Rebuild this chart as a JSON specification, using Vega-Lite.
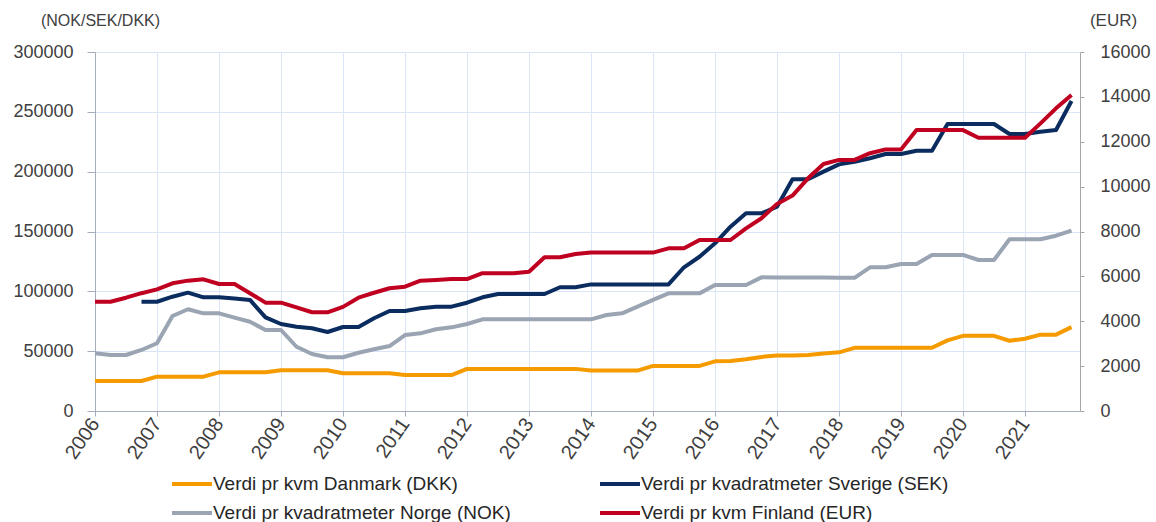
{
  "$schema": "https://vega.github.io/schema/vega-lite/v6.json",
  "width": 985,
  "height": 359,
  "autosize": {"type": "none"},
  "padding": {"left": 95, "top": 52, "right": 76, "bottom": 111},
  "background": "white",
  "config": {
    "font": "Liberation Sans",
    "view": {"stroke": null},
    "axis": {"labelColor": "#404040", "titleColor": "#404040", "titleFontWeight": "normal", "labelFont": "Liberation Sans", "titleFont": "Liberation Sans"}
  },
  "data": {
    "values": [
      {"t": 2006, "dk": 25100, "se": null, "no": 48200, "fi": 4870},
      {"t": 2006.25, "dk": 25100, "se": null, "no": 46800, "fi": 4870},
      {"t": 2006.5, "dk": 25100, "se": null, "no": 46800, "fi": 5050},
      {"t": 2006.75, "dk": 25100, "se": 91300, "no": 51000, "fi": 5250},
      {"t": 2007, "dk": 28700, "se": 91300, "no": 56600, "fi": 5420},
      {"t": 2007.25, "dk": 28700, "se": 95500, "no": 79400, "fi": 5690},
      {"t": 2007.5, "dk": 28700, "se": 98900, "no": 85000, "fi": 5810},
      {"t": 2007.75, "dk": 28700, "se": 95000, "no": 81600, "fi": 5870},
      {"t": 2008, "dk": 32300, "se": 95000, "no": 81600, "fi": 5660},
      {"t": 2008.25, "dk": 32300, "se": 94000, "no": 78000, "fi": 5660},
      {"t": 2008.5, "dk": 32300, "se": 92800, "no": 74600, "fi": 5250},
      {"t": 2008.75, "dk": 32300, "se": 78300, "no": 67700, "fi": 4830},
      {"t": 2009, "dk": 34000, "se": 72700, "no": 67700, "fi": 4830},
      {"t": 2009.25, "dk": 34000, "se": 70400, "no": 53700, "fi": 4620},
      {"t": 2009.5, "dk": 34000, "se": 69100, "no": 47600, "fi": 4400},
      {"t": 2009.75, "dk": 34000, "se": 66000, "no": 44900, "fi": 4400},
      {"t": 2010, "dk": 31500, "se": 70200, "no": 44900, "fi": 4640},
      {"t": 2010.25, "dk": 31500, "se": 70200, "no": 48700, "fi": 5050},
      {"t": 2010.5, "dk": 31500, "se": 77500, "no": 51600, "fi": 5270},
      {"t": 2010.75, "dk": 31500, "se": 83600, "no": 54300, "fi": 5470},
      {"t": 2011, "dk": 30000, "se": 83600, "no": 63500, "fi": 5540},
      {"t": 2011.25, "dk": 30000, "se": 85800, "no": 64900, "fi": 5810},
      {"t": 2011.5, "dk": 30000, "se": 87200, "no": 68300, "fi": 5840},
      {"t": 2011.75, "dk": 30000, "se": 87200, "no": 69900, "fi": 5880},
      {"t": 2012, "dk": 35200, "se": 90500, "no": 72700, "fi": 5880},
      {"t": 2012.25, "dk": 35200, "se": 95000, "no": 76600, "fi": 6140},
      {"t": 2012.5, "dk": 35200, "se": 97800, "no": 76600, "fi": 6140},
      {"t": 2012.75, "dk": 35200, "se": 97800, "no": 76600, "fi": 6140},
      {"t": 2013, "dk": 35200, "se": 97800, "no": 76600, "fi": 6210},
      {"t": 2013.25, "dk": 35200, "se": 97800, "no": 76600, "fi": 6850},
      {"t": 2013.5, "dk": 35200, "se": 103400, "no": 76600, "fi": 6850},
      {"t": 2013.75, "dk": 35200, "se": 103400, "no": 76600, "fi": 7000},
      {"t": 2014, "dk": 33800, "se": 105800, "no": 76600, "fi": 7060},
      {"t": 2014.25, "dk": 33800, "se": 105800, "no": 80200, "fi": 7060},
      {"t": 2014.5, "dk": 33800, "se": 105800, "no": 81600, "fi": 7060},
      {"t": 2014.75, "dk": 33800, "se": 105800, "no": 87200, "fi": 7060},
      {"t": 2015, "dk": 37700, "se": 105800, "no": 92800, "fi": 7060},
      {"t": 2015.25, "dk": 37700, "se": 105800, "no": 98300, "fi": 7250},
      {"t": 2015.5, "dk": 37700, "se": 120100, "no": 98300, "fi": 7250},
      {"t": 2015.75, "dk": 37700, "se": 128900, "no": 98300, "fi": 7620},
      {"t": 2016, "dk": 41500, "se": 140100, "no": 105300, "fi": 7620},
      {"t": 2016.25, "dk": 41800, "se": 154000, "no": 105300, "fi": 7620},
      {"t": 2016.5, "dk": 43300, "se": 165200, "no": 105300, "fi": 8140},
      {"t": 2016.75, "dk": 45200, "se": 165200, "no": 111700, "fi": 8590},
      {"t": 2017, "dk": 46400, "se": 170700, "no": 111500, "fi": 9230},
      {"t": 2017.25, "dk": 46400, "se": 193600, "no": 111500, "fi": 9600},
      {"t": 2017.5, "dk": 46800, "se": 193600, "no": 111500, "fi": 10370},
      {"t": 2017.75, "dk": 48000, "se": 200000, "no": 111500, "fi": 11010},
      {"t": 2018, "dk": 49000, "se": 206100, "no": 111300, "fi": 11190},
      {"t": 2018.25, "dk": 52800, "se": 208300, "no": 111300, "fi": 11190},
      {"t": 2018.5, "dk": 52800, "se": 211200, "no": 120100, "fi": 11490},
      {"t": 2018.75, "dk": 52800, "se": 214800, "no": 120100, "fi": 11660},
      {"t": 2019, "dk": 52800, "se": 214800, "no": 122800, "fi": 11660},
      {"t": 2019.25, "dk": 52800, "se": 217500, "no": 122800, "fi": 12520},
      {"t": 2019.5, "dk": 52800, "se": 217500, "no": 130400, "fi": 12520},
      {"t": 2019.75, "dk": 59000, "se": 239800, "no": 130400, "fi": 12520},
      {"t": 2020, "dk": 62800, "se": 239800, "no": 130400, "fi": 12520},
      {"t": 2020.25, "dk": 62800, "se": 239800, "no": 126200, "fi": 12180},
      {"t": 2020.5, "dk": 62800, "se": 239800, "no": 126200, "fi": 12180},
      {"t": 2020.75, "dk": 58700, "se": 231500, "no": 143500, "fi": 12180},
      {"t": 2021, "dk": 60400, "se": 231500, "no": 143500, "fi": 12180},
      {"t": 2021.25, "dk": 63800, "se": 233400, "no": 143500, "fi": 12820},
      {"t": 2021.5, "dk": 63800, "se": 234800, "no": 146500, "fi": 13490},
      {"t": 2021.75, "dk": 70100, "se": 259000, "no": 150700, "fi": 14080}
    ]
  },
  "layer": [
    {
      "transform": [{"fold": ["dk", "se", "no"], "as": ["serie", "verdi"]}],
      "mark": {"type": "line", "strokeWidth": 4, "strokeJoin": "round"},
      "encoding": {
        "x": {
          "field": "t", "type": "quantitative",
          "scale": {"domain": [2006, 2021.887], "nice": false, "zero": false},
          "axis": {
            "values": [2006, 2007, 2008, 2009, 2010, 2011, 2012, 2013, 2014, 2015, 2016, 2017, 2018, 2019, 2020, 2021],
            "format": "d", "title": null, "labelAngle": -55, "labelAlign": "right", "labelBaseline": "middle",
            "labelFontSize": 20, "labelPadding": 4, "tickSize": 5, "tickColor": "#A6ADBB", "domainColor": "#A6ADBB",
            "grid": true, "gridColor": "#DAE5F7", "gridWidth": 1, "labelOverlap": false, "labelFlush": false
          }
        },
        "y": {
          "field": "verdi", "type": "quantitative",
          "scale": {"domain": [0, 300000], "nice": false},
          "axis": {
            "orient": "left", "values": [0, 50000, 100000, 150000, 200000, 250000, 300000], "format": "d",
            "title": "(NOK/SEK/DKK)", "titleAngle": 0, "titleX": 5, "titleY": -32, "titleAlign": "center", "titleBaseline": "middle",
            "titleFontSize": 16, "labelFontSize": 18, "labelPadding": 14, "tickSize": 8,
            "tickColor": "#A6ADBB", "domainColor": "#A6ADBB", "grid": true, "gridColor": "#DAE5F7", "gridWidth": 1
          }
        },
        "color": {
          "field": "serie", "type": "nominal",
          "scale": {"domain": ["dk", "no", "se", "fi"], "range": ["#F59B00", "#9AA4B3", "#0A2C5E", "#C00020"]},
          "legend": {
            "orient": "none", "legendX": 85, "legendY": 420, "columns": 2, "columnPadding": 81, "rowPadding": 7,
            "title": null, "symbolType": "M-2,0H2", "symbolSize": 400, "symbolStrokeWidth": 4, "labelFontSize": 19,
            "labelOffset": 9, "labelLimit": 500, "labelColor": "#262626",
            "labelExpr": "{'dk': 'Verdi pr kvm Danmark (DKK)', 'se': 'Verdi pr kvadratmeter Sverige (SEK)', 'no': 'Verdi pr kvadratmeter Norge (NOK)', 'fi': 'Verdi pr kvm Finland (EUR)'}[datum.value]"
          }
        }
      }
    },
    {
      "transform": [{"fold": ["fi"], "as": ["serie", "verdi"]}],
      "mark": {"type": "line", "strokeWidth": 4, "strokeJoin": "round"},
      "encoding": {
        "x": {
          "field": "t", "type": "quantitative",
          "scale": {"domain": [2006, 2021.887], "nice": false, "zero": false},
          "axis": {
            "values": [2006, 2007, 2008, 2009, 2010, 2011, 2012, 2013, 2014, 2015, 2016, 2017, 2018, 2019, 2020, 2021],
            "format": "d", "title": null, "labelAngle": -55, "labelAlign": "right", "labelBaseline": "middle",
            "labelFontSize": 20, "labelPadding": 4, "tickSize": 5, "tickColor": "#A6ADBB", "domainColor": "#A6ADBB",
            "grid": true, "gridColor": "#DAE5F7", "gridWidth": 1, "labelOverlap": false, "labelFlush": false
          }
        },
        "y": {
          "field": "verdi", "type": "quantitative",
          "scale": {"domain": [0, 16000], "nice": false},
          "axis": {
            "orient": "right", "values": [0, 2000, 4000, 6000, 8000, 10000, 12000, 14000, 16000], "format": "d",
            "title": "(EUR)", "titleAngle": 0, "titleX": 33, "titleY": -32, "titleAlign": "center", "titleBaseline": "middle",
            "titleFontSize": 17, "labelFontSize": 18, "labelPadding": 16, "tickSize": 4,
            "tickColor": "#A6A6A6", "domainColor": "#A6A6A6", "grid": false
          }
        },
        "color": {
          "field": "serie", "type": "nominal",
          "scale": {"domain": ["dk", "no", "se", "fi"], "range": ["#F59B00", "#9AA4B3", "#0A2C5E", "#C00020"]},
          "legend": {
            "orient": "none", "legendX": 85, "legendY": 420, "columns": 2, "columnPadding": 81, "rowPadding": 7,
            "title": null, "symbolType": "M-2,0H2", "symbolSize": 400, "symbolStrokeWidth": 4, "labelFontSize": 19,
            "labelOffset": 9, "labelLimit": 500, "labelColor": "#262626",
            "labelExpr": "{'dk': 'Verdi pr kvm Danmark (DKK)', 'se': 'Verdi pr kvadratmeter Sverige (SEK)', 'no': 'Verdi pr kvadratmeter Norge (NOK)', 'fi': 'Verdi pr kvm Finland (EUR)'}[datum.value]"
          }
        }
      }
    }
  ],
  "resolve": {"scale": {"y": "independent"}}
}
